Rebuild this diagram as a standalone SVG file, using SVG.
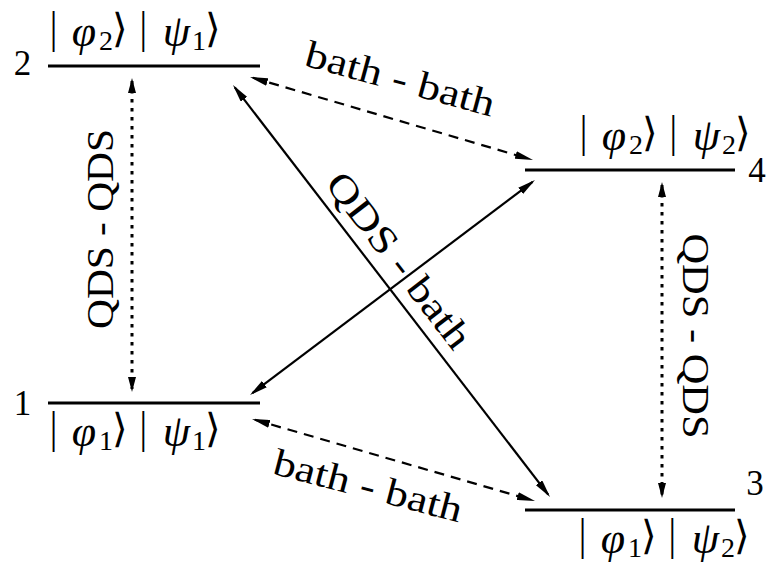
<svg xmlns="http://www.w3.org/2000/svg" width="767" height="562" viewBox="0 0 767 562">
<style>
text{font-family:"Liberation Serif","DejaVu Serif",serif;fill:#000}
.lvl{stroke:#000;stroke-width:3;fill:none}
.num{font-size:35px;text-anchor:middle}
.ket{font-size:44px}
.ket tspan{text-anchor:middle}
.it{font-style:italic}
.sub{font-size:28px}
.br{font-family:"DejaVu Sans","Noto Sans",sans-serif;font-size:40px;font-weight:300}
.lab{font-size:38px;text-anchor:middle}
.solid{stroke:#000;stroke-width:2.2;fill:none;marker-start:url(#ah);marker-end:url(#ah)}
.dash{stroke:#000;stroke-width:2.2;fill:none;stroke-dasharray:10 7;marker-start:url(#ah);marker-end:url(#ah)}
.dot{stroke:#000;stroke-width:3;fill:none;stroke-dasharray:3.5 5.5;marker-start:url(#av);marker-end:url(#av)}
</style>
<defs>
<marker id="ah" viewBox="0 0 18 8" refX="15" refY="4" markerWidth="18" markerHeight="8" markerUnits="userSpaceOnUse" orient="auto-start-reverse"><path d="M0,0 L18,4 L0,8 z" fill="#000"/></marker>
<marker id="av" viewBox="0 0 15 8" refX="12" refY="4" markerWidth="15" markerHeight="8" markerUnits="userSpaceOnUse" orient="auto-start-reverse"><path d="M0,0 L15,4 L0,8 z" fill="#000"/></marker>
</defs>
<rect width="767" height="562" fill="#fff"/>

<g id="level2">
<line class="lvl" x1="48" y1="66" x2="260" y2="66"/>
<text class="num" x="22.5" y="75">2</text>
<text class="ket" transform="translate(52,46)"><tspan class="br" x="1.5" y="-4">|</tspan><tspan class="it" x="32" y="0">φ</tspan><tspan class="sub" x="54" y="4">2</tspan><tspan class="br" x="68" y="-4">⟩</tspan><tspan class="br" x="91.3" y="-4">|</tspan><tspan class="it" x="124.5" y="0">ψ</tspan><tspan class="sub" x="147" y="4">1</tspan><tspan class="br" x="161" y="-4">⟩</tspan></text>
</g>

<g id="level4">
<line class="lvl" x1="525" y1="170" x2="735" y2="170"/>
<text class="num" x="757" y="182">4</text>
<text class="ket" transform="translate(582,150)"><tspan class="br" x="1.5" y="-4">|</tspan><tspan class="it" x="32" y="0">φ</tspan><tspan class="sub" x="54" y="4">2</tspan><tspan class="br" x="68" y="-4">⟩</tspan><tspan class="br" x="91.3" y="-4">|</tspan><tspan class="it" x="124.5" y="0">ψ</tspan><tspan class="sub" x="147" y="4">2</tspan><tspan class="br" x="161" y="-4">⟩</tspan></text>
</g>

<g id="level1">
<line class="lvl" x1="48" y1="403" x2="260" y2="403"/>
<text class="num" x="22.5" y="415">1</text>
<text class="ket" transform="translate(52,446)"><tspan class="br" x="1.5" y="-4">|</tspan><tspan class="it" x="32" y="0">φ</tspan><tspan class="sub" x="54" y="4">1</tspan><tspan class="br" x="68" y="-4">⟩</tspan><tspan class="br" x="91.3" y="-4">|</tspan><tspan class="it" x="124.5" y="0">ψ</tspan><tspan class="sub" x="147" y="4">1</tspan><tspan class="br" x="161" y="-4">⟩</tspan></text>
</g>

<g id="level3">
<line class="lvl" x1="525" y1="510" x2="735" y2="510"/>
<text class="num" x="755" y="495">3</text>
<text class="ket" transform="translate(581,553)"><tspan class="br" x="1.5" y="-4">|</tspan><tspan class="it" x="32" y="0">φ</tspan><tspan class="sub" x="54" y="4">1</tspan><tspan class="br" x="68" y="-4">⟩</tspan><tspan class="br" x="91.3" y="-4">|</tspan><tspan class="it" x="124.5" y="0">ψ</tspan><tspan class="sub" x="147" y="4">2</tspan><tspan class="br" x="161" y="-4">⟩</tspan></text>
</g>

<g id="connectors">
<line class="dot" x1="132" y1="81" x2="132" y2="389"/>
<line class="dot" x1="662" y1="185" x2="662" y2="495"/>
<line class="dash" x1="252.9" y1="77.8" x2="530.1" y2="159.2"/>
<line class="dash" x1="254.9" y1="419.8" x2="532.1" y2="500.2"/>
<line class="solid" x1="234.8" y1="87.4" x2="548.2" y2="494.6"/>
<line class="solid" x1="252.4" y1="393.2" x2="532.6" y2="181.8"/>
<text class="lab" transform="translate(113,229) rotate(-90)" textLength="200" lengthAdjust="spacingAndGlyphs">QDS - QDS</text>
<text class="lab" transform="translate(683,336) rotate(90)" textLength="205" lengthAdjust="spacingAndGlyphs">QDS - QDS</text>
<text class="lab" transform="translate(397,91) rotate(15.3)" textLength="195" lengthAdjust="spacingAndGlyphs">bath - bath</text>
<text class="lab" transform="translate(365,498) rotate(14.7)" textLength="194" lengthAdjust="spacingAndGlyphs">bath - bath</text>
<text class="lab" transform="translate(389,268) rotate(52.4)" textLength="212" lengthAdjust="spacingAndGlyphs">QDS - bath</text>
</g>
</svg>
